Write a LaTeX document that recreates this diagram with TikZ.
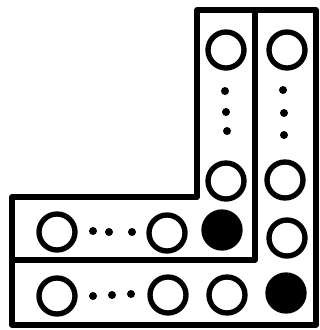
\documentclass[tikz,border=0pt]{standalone}
\begin{document}
\begin{tikzpicture}[x=0.75pt,y=-0.75pt,
  frame/.style={line width=4pt,line join=round,line cap=round},
  ring/.style={circle,draw,line width=4pt,minimum size=27pt,inner sep=0pt},
  full/.style={circle,fill,minimum size=31pt,inner sep=0pt},
  dot/.style={circle,fill,minimum size=6pt,inner sep=0pt}]
\useasboundingbox (0,0) rectangle (320,330);
% frame
\draw[frame] (197,10) -- (316,10) -- (316,325) -- (12,325) -- (12,197) -- (197,197) -- cycle;
\draw[frame] (255,10) -- (255,260);
\draw[frame] (12,260) -- (255,260);
% column 1
\node[ring] (c1a) at (226,50) {};
\node[dot] (c1d1) at (225,91) {};
\node[dot] (c1d2) at (226,112) {};
\node[dot] (c1d3) at (227,131) {};
\node[ring] (c1b) at (226,181) {};
% column 2
\node[ring] (c2a) at (287,50) {};
\node[dot] (c2d1) at (283,90) {};
\node[dot] (c2d2) at (284,113) {};
\node[dot] (c2d3) at (284,135) {};
\node[ring] (c2b) at (285,180) {};
\node[ring] (c2c) at (287,238) {};
\node[full] (c2d) at (286,293) {};
% row 1
\node[ring] (r1a) at (57,232) {};
\node[dot] (r1d1) at (93,231) {};
\node[dot] (r1d2) at (109,232) {};
\node[dot] (r1d3) at (132,232) {};
\node[ring] (r1b) at (167,233) {};
\node[full] (r1c) at (222,230) {};
% row 2
\node[ring] (r2a) at (57,296) {};
\node[dot] (r2d1) at (93,296) {};
\node[dot] (r2d2) at (112,295) {};
\node[dot] (r2d3) at (131,294) {};
\node[ring] (r2b) at (168,295) {};
\node[ring] (r2c) at (227,295) {};
\end{tikzpicture}
\end{document}
